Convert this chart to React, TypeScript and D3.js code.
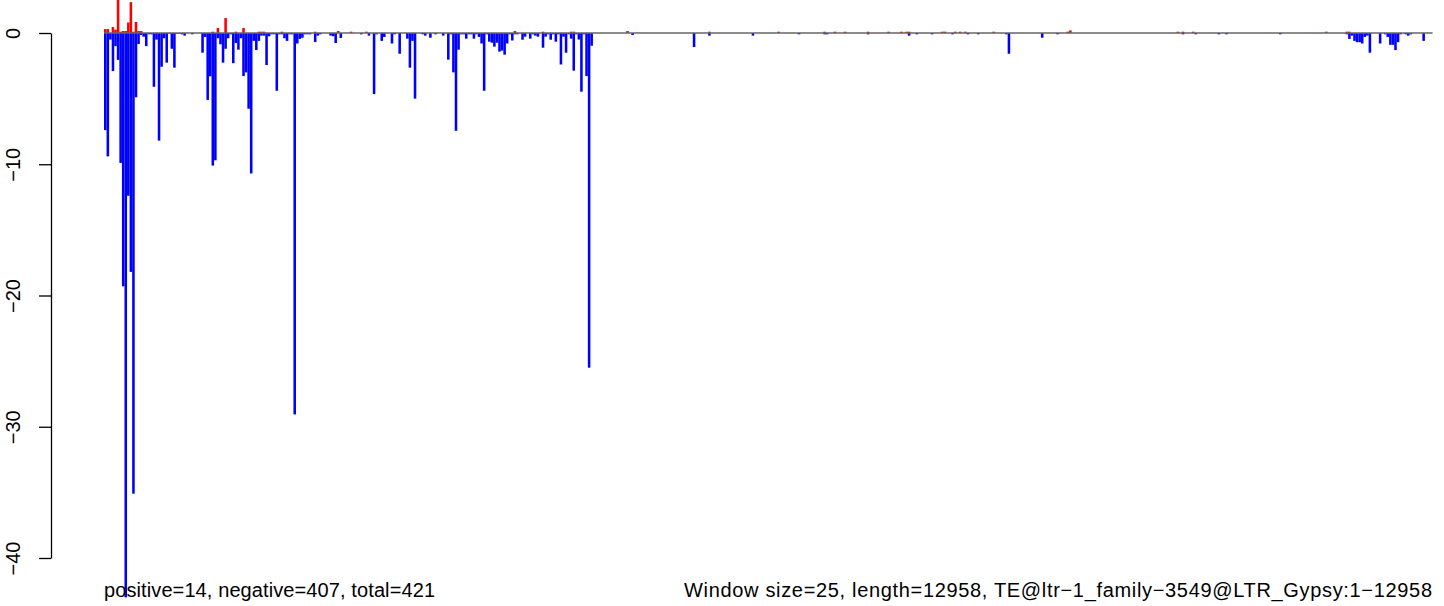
import * as d3 from 'd3';
import React, { useEffect, useRef } from 'react';

// window counts, [window index, value]
const nWindows = 519;

const negative: [number, number][] = [
  [0, -7.4], [1, -9.4], [2, -0.5], [3, -2.9], [4, -1.0], [5, -2.05], [6, -9.9], [7, -19.3],
  [8, -43], [9, -12.4], [10, -18.2], [11, -35.1], [12, -4.9], [13, -0.84], [14, -0.15],
  [15, -0.28], [16, -1.0], [17, -0.1], [18, -0.1], [19, -4.1], [20, -0.5], [21, -8.2],
  [22, -2.57], [23, -0.4], [24, -2.26], [25, -0.05], [26, -1.2], [27, -2.64], [28, -0.05],
  [29, -0.05], [30, -0.1], [31, -0.2], [34, -0.1], [38, -1.5], [39, -0.3], [40, -5.1],
  [41, -3.3], [42, -10.1], [43, -9.7], [44, -0.4], [45, -0.86], [46, -2.26], [47, -1.2],
  [48, -0.4], [49, -0.1], [50, -2.3], [51, -0.76], [52, -1.27], [53, -0.4], [54, -3.28],
  [55, -3.0], [56, -5.77], [57, -10.7], [58, -0.6], [59, -1.3], [60, -0.6], [61, -0.2],
  [62, -0.2], [63, -2.44], [64, -0.25], [65, -0.1], [66, -0.1], [67, -4.4], [68, -0.1],
  [69, -0.1], [70, -0.4], [71, -0.6], [72, -0.1], [73, -0.1], [74, -29.06], [75, -0.8],
  [76, -0.45], [77, -0.36], [78, -0.1], [79, -0.1], [80, -0.1], [82, -0.69], [83, -0.2],
  [84, -0.1], [88, -0.2], [89, -0.25], [90, -0.76], [92, -0.38], [100, -0.1], [103, -0.2],
  [105, -4.65], [106, -0.1], [108, -0.6], [109, -0.3], [112, -0.8], [113, -0.1],
  [115, -1.58], [118, -0.43], [119, -2.64], [120, -0.6], [121, -5.0], [124, -0.1],
  [125, -0.2], [127, -0.36], [129, -0.1], [132, -0.2], [134, -2.03], [135, -0.1],
  [136, -3.0], [137, -7.45], [138, -1.27], [139, -0.1], [140, -0.1], [141, -0.43],
  [142, -0.1], [143, -0.1], [144, -0.43], [145, -0.1], [146, -0.3], [147, -0.8],
  [148, -4.4], [149, -0.1], [150, -0.66], [151, -0.74], [152, -1.04], [153, -0.74],
  [154, -1.42], [155, -1.34], [156, -1.65], [157, -0.8], [158, -0.1], [159, -0.57],
  [160, -0.1], [161, -0.1], [163, -0.51], [164, -0.28], [166, -0.43], [167, -0.1],
  [168, -0.2], [169, -0.28], [171, -1.12], [172, -0.28], [173, -0.1], [174, -0.51],
  [175, -0.1], [176, -0.66], [177, -0.1], [178, -2.4], [179, -0.28], [180, -1.5],
  [181, -0.1], [182, -0.43], [183, -2.87], [184, -0.1], [185, -0.5], [186, -4.47],
  [187, -0.1], [188, -3.28], [189, -25.5], [190, -0.97], [206, -0.15], [230, -1.07],
  [236, -0.2], [253, -0.2], [271, -0.1], [281, -0.1], [282, -0.1], [298, -0.1],
  [314, -0.2], [317, -0.1], [323, -0.1], [331, -0.1], [337, -0.1], [341, -0.1],
  [352, -0.1], [353, -1.58], [366, -0.36], [372, -0.1], [421, -0.1], [426, -0.1],
  [435, -0.1], [438, -0.1], [459, -0.1], [485, -0.1], [486, -0.45], [487, -0.2],
  [488, -0.6], [489, -0.7], [490, -0.7], [491, -0.8], [492, -0.3], [493, -0.2],
  [494, -1.5], [498, -0.8], [500, -0.1], [501, -0.3], [502, -0.9], [503, -0.9],
  [504, -1.3], [505, -0.7], [506, -0.1], [508, -0.1], [509, -0.2], [510, -0.1], [515, -0.6]
];

const positive: [number, number][] = [
  [0, 0.3], [1, 0.3], [3, 0.45], [4, 0.25], [5, 3], [6, 0.1], [7, 0.15], [8, 0.15],
  [9, 0.8], [10, 2.35], [11, 0.1], [12, 0.84], [13, 0.15], [14, 0.15], [42, 0.1],
  [44, 0.38], [47, 1.14], [51, 0.1], [54, 0.38], [60, 0.1], [61, 0.1], [62, 0.1],
  [69, 0.1], [82, 0.1], [91, 0.15], [96, 0.1], [102, 0.1], [160, 0.15], [171, 0.1],
  [182, 0.1], [183, 0.1], [204, 0.15], [236, 0.1], [263, 0.1], [281, 0.1], [285, 0.1],
  [289, 0.1], [298, 0.1], [306, 0.1], [311, 0.1], [313, 0.1], [314, 0.1], [327, 0.1],
  [328, 0.1], [332, 0.1], [334, 0.1], [336, 0.1], [347, 0.1], [376, 0.1], [377, 0.2],
  [419, 0.1], [421, 0.1], [425, 0.1], [477, 0.1], [485, 0.1], [486, 0.1]
];

const yTicks = [0, -10, -20, -30, -40];
const leftNote = 'positive=14, negative=407, total=421';
const rightNote = 'Window size=25, length=12958, TE@ltr\u22121_family\u22123549@LTR_Gypsy:1\u221212958';

const width = 1444;
const height = 606;

export default function App() {
  const ref = useRef<SVGSVGElement>(null);

  useEffect(() => {
    const svg = d3.select(ref.current);
    svg.selectAll('*').remove();

    const x = d3.scaleBand<number>().domain(d3.range(nWindows)).range([104, 1432.6]).padding(0);
    const y = d3.scaleLinear().domain([0, -40]).range([33, 558]);
    const font = '"Liberation Sans", Arial, Helvetica, sans-serif';

    svg.append('g')
      .selectAll('rect')
      .data(negative)
      .enter()
      .append('rect')
      .attr('x', d => x(d[0]) as number)
      .attr('y', y(0))
      .attr('width', x.bandwidth())
      .attr('height', d => y(d[1]) - y(0))
      .attr('fill', '#0000ff');

    svg.append('g')
      .selectAll('rect')
      .data(positive)
      .enter()
      .append('rect')
      .attr('x', d => x(d[0]) as number)
      .attr('y', d => y(d[1]))
      .attr('width', x.bandwidth())
      .attr('height', d => y(0) - y(d[1]))
      .attr('fill', '#ff0000');

    // zero line
    svg.append('line')
      .attr('x1', 104)
      .attr('x2', 1432.6)
      .attr('y1', y(0))
      .attr('y2', y(0))
      .attr('stroke', '#666666')
      .attr('stroke-width', 1.3);

    const axis = svg.append('g')
      .attr('transform', 'translate(51,0)')
      .call(d3.axisLeft(y).tickValues(yTicks).tickSize(12).tickSizeOuter(0).tickFormat(d => d3.format('')(d as number).replace('-', '\u2212')));
    axis.select('.domain').attr('stroke', '#000').attr('stroke-width', 1.3);
    axis.selectAll('.tick line').attr('stroke', '#000').attr('stroke-width', 1.3);
    axis.selectAll('.tick text')
      .attr('x', null)
      .attr('dy', null)
      .attr('transform', 'translate(-31,0) rotate(-90)')
      .attr('text-anchor', 'middle')
      .attr('font-family', font)
      .attr('font-size', 20)
      .attr('fill', '#000');

    svg.append('text')
      .attr('x', 104)
      .attr('y', 597)
      .attr('font-family', font)
      .attr('font-size', 20)
      .attr('textLength', 331)
      .attr('lengthAdjust', 'spacing')
      .text(leftNote);

    svg.append('text')
      .attr('x', 684)
      .attr('y', 597)
      .attr('font-family', font)
      .attr('font-size', 20)
      .attr('textLength', 748)
      .attr('lengthAdjust', 'spacing')
      .text(rightNote);
  }, []);

  return (
    <svg ref={ref} width={width} height={height}
      style={{ position: 'absolute', left: 0, top: 0, background: '#fff' }} />
  );
}
